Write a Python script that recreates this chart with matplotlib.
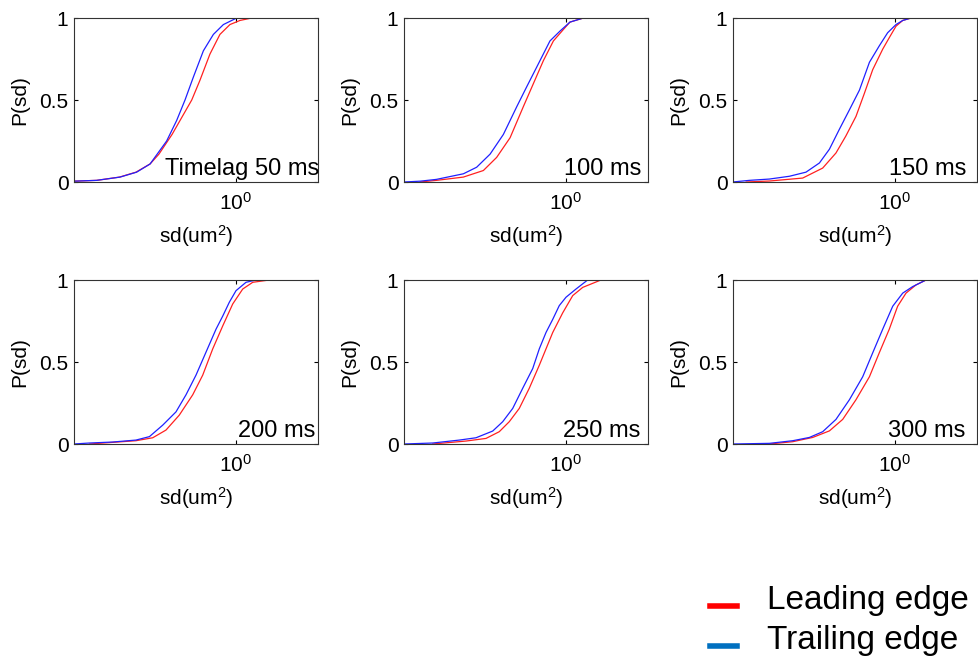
#!/usr/bin/env python3
"""Cumulative distributions of sd for leading vs trailing edge, six time lags."""

import matplotlib
matplotlib.use("Agg")
import matplotlib.pyplot as plt
import numpy as np
from matplotlib.lines import Line2D

plt.rcParams["font.family"] = ["Liberation Sans", "DejaVu Sans"]
plt.rcParams["mathtext.fontset"] = "custom"
plt.rcParams["mathtext.rm"] = "Liberation Sans"
plt.rcParams["mathtext.it"] = "Liberation Sans:italic"

# panel labels
LABELS = ["Timelag 50 ms", "100 ms", "150 ms", "200 ms", "250 ms", "300 ms"]

# curves: log10(sd) and cumulative P(sd)
LEAD_50_X = [-0.99, -0.85, -0.71, -0.61, -0.524, -0.47, -0.39, -0.27, -0.22, -0.159, -0.098, -0.037, 0.024, 0.096]
LEAD_50_P = [0.005, 0.01, 0.03, 0.06, 0.11, 0.17, 0.29, 0.50, 0.62, 0.78, 0.90, 0.96, 0.985, 1.0]
TRAIL_50_X = [-0.99, -0.85, -0.707, -0.606, -0.524, -0.423, -0.362, -0.311, -0.26, -0.199, -0.138, -0.077, -0.016, 0.004]
TRAIL_50_P = [0.005, 0.01, 0.03, 0.06, 0.11, 0.25, 0.375, 0.50, 0.64, 0.80, 0.90, 0.96, 0.99, 1.0]

LEAD_100_X = [-0.89, -0.79, -0.626, -0.504, -0.423, -0.341, -0.26, -0.199, -0.138, -0.077, -0.016, 0.024, 0.106]
LEAD_100_P = [0.0, 0.01, 0.03, 0.07, 0.15, 0.27, 0.46, 0.60, 0.74, 0.86, 0.93, 0.975, 1.0]
TRAIL_100_X = [-0.988, -0.89, -0.79, -0.626, -0.545, -0.463, -0.382, -0.30, -0.24, -0.179, -0.098, -0.037, 0.024, 0.106]
TRAIL_100_P = [0.0, 0.005, 0.016, 0.05, 0.09, 0.17, 0.29, 0.46, 0.58, 0.70, 0.86, 0.92, 0.975, 1.0]

LEAD_150_X = [-0.908, -0.766, -0.563, -0.441, -0.36, -0.30, -0.238, -0.187, -0.136, -0.075, -0.035, 0.006, 0.047, 0.098, 0.189]
LEAD_150_P = [0.0, 0.006, 0.024, 0.085, 0.177, 0.28, 0.40, 0.54, 0.685, 0.81, 0.88, 0.95, 0.985, 1.0, 1.0]
TRAIL_150_X = [-0.99, -0.888, -0.766, -0.644, -0.543, -0.461, -0.40, -0.34, -0.278, -0.217, -0.156, -0.096, -0.045, 0.006, 0.047, 0.098]
TRAIL_150_P = [0.0, 0.01, 0.018, 0.035, 0.06, 0.116, 0.20, 0.32, 0.44, 0.56, 0.73, 0.83, 0.91, 0.96, 0.985, 1.0]

LEAD_200_X = [-0.894, -0.752, -0.61, -0.508, -0.427, -0.346, -0.264, -0.203, -0.142, -0.081, -0.02, 0.041, 0.102, 0.203]
LEAD_200_P = [0.0, 0.01, 0.02, 0.038, 0.085, 0.176, 0.30, 0.42, 0.58, 0.72, 0.854, 0.945, 0.986, 1.0]
TRAIL_200_X = [-0.988, -0.894, -0.752, -0.61, -0.528, -0.447, -0.366, -0.305, -0.244, -0.183, -0.122, -0.081, -0.041, 0.0, 0.061, 0.122]
TRAIL_200_P = [0.0, 0.006, 0.012, 0.024, 0.045, 0.115, 0.196, 0.30, 0.42, 0.56, 0.70, 0.78, 0.864, 0.935, 0.986, 1.0]

LEAD_250_X = [-0.813, -0.61, -0.488, -0.407, -0.346, -0.285, -0.224, -0.163, -0.122, -0.081, -0.02, 0.041, 0.102, 0.213]
LEAD_250_P = [0.0, 0.018, 0.034, 0.075, 0.136, 0.217, 0.34, 0.48, 0.58, 0.68, 0.80, 0.905, 0.955, 1.0]
TRAIL_250_X = [-0.988, -0.813, -0.65, -0.549, -0.447, -0.386, -0.325, -0.264, -0.203, -0.163, -0.122, -0.081, -0.041, 0.0, 0.061, 0.132]
TRAIL_250_P = [0.0, 0.006, 0.024, 0.038, 0.079, 0.136, 0.217, 0.34, 0.46, 0.58, 0.68, 0.76, 0.844, 0.895, 0.945, 1.0]

LEAD_300_X = [-0.766, -0.624, -0.502, -0.40, -0.319, -0.238, -0.156, -0.096, -0.035, 0.016, 0.067, 0.128, 0.189]
LEAD_300_P = [0.0, 0.014, 0.04, 0.08, 0.15, 0.27, 0.41, 0.556, 0.70, 0.84, 0.92, 0.97, 1.0]
TRAIL_300_X = [-0.988, -0.766, -0.624, -0.522, -0.441, -0.36, -0.278, -0.197, -0.136, -0.075, -0.014, 0.047, 0.108, 0.189]
TRAIL_300_P = [0.0, 0.004, 0.02, 0.04, 0.075, 0.15, 0.27, 0.41, 0.556, 0.70, 0.84, 0.92, 0.96, 1.0]

LEAD = [(LEAD_50_X, LEAD_50_P), (LEAD_100_X, LEAD_100_P), (LEAD_150_X, LEAD_150_P),
        (LEAD_200_X, LEAD_200_P), (LEAD_250_X, LEAD_250_P), (LEAD_300_X, LEAD_300_P)]
TRAIL = [(TRAIL_50_X, TRAIL_50_P), (TRAIL_100_X, TRAIL_100_P), (TRAIL_150_X, TRAIL_150_P),
         (TRAIL_200_X, TRAIL_200_P), (TRAIL_250_X, TRAIL_250_P), (TRAIL_300_X, TRAIL_300_P)]

W, H = 979, 657
COL_LEFT = [74, 404, 733]
ROW_TOP = [18, 280]
AX_W, AX_H = 244, 164
LABEL_INSET = [-1, 7, 11, 3, 8, 12]


def main() -> None:
    fig = plt.figure(figsize=(W / 100, H / 100), dpi=100)

    for i in range(6):
        r, c = divmod(i, 3)
        ax = fig.add_axes([COL_LEFT[c] / W, 1 - (ROW_TOP[r] + AX_H) / H, AX_W / W, AX_H / H])
        lx, lp = LEAD[i]
        tx, tp = TRAIL[i]
        ax.plot(10 ** np.array(lx), lp, color="#ff2020", linewidth=0.9)
        ax.plot(10 ** np.array(tx), tp, color="#2020ff", linewidth=0.9)

        ax.set_xscale("log")
        ax.set_xlim(10 ** -0.988, 10 ** 0.5)
        ax.set_ylim(0, 1)
        ax.set_xticks([1])
        ax.set_xticklabels([r"$10^{0}$"])
        ax.xaxis.set_minor_locator(plt.NullLocator())
        ax.set_yticks([0, 0.5, 1])
        ax.set_yticklabels(["0", "0.5", "1"])
        ax.tick_params(direction="in", length=3, width=0.8, labelsize=15,
                       top=True, right=True, pad=4)
        ax.tick_params(axis="x", pad=7)
        for s in ax.spines.values():
            s.set_linewidth(0.8)
            s.set_color("#333333")
        ax.set_xlabel(r"sd(um$^2$)", fontsize=15, labelpad=7)
        ax.set_ylabel("P(sd)", fontsize=15, labelpad=7)

        ax.text(1 - LABEL_INSET[i] / AX_W, 7 / AX_H, LABELS[i], transform=ax.transAxes,
                ha="right", va="baseline", fontsize=17)

    # legend drawn in figure pixels
    for y, col, txt in [(606, "#ff0000", "Leading edge"), (646, "#0070c0", "Trailing edge")]:
        fig.add_artist(Line2D([710 / W, 737 / W], [1 - y / H, 1 - y / H],
                              color=col, linewidth=4, transform=fig.transFigure))
        fig.text(767 / W, 1 - (y + 3) / H, txt, fontsize=24, va="baseline", ha="left")

    fig.savefig("out.png", dpi=100)


if __name__ == "__main__":
    main()
